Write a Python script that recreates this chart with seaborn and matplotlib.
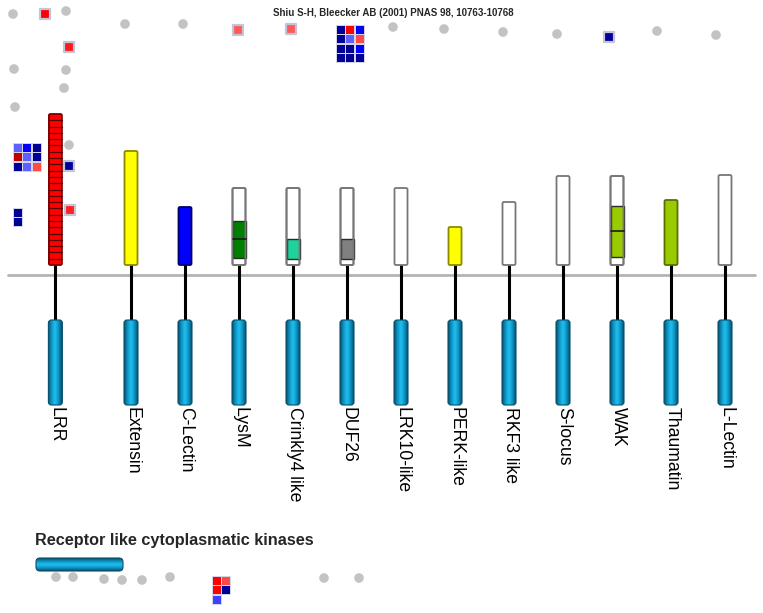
import numpy as np
import matplotlib
matplotlib.use("Agg")
import matplotlib.pyplot as plt
import seaborn as sns
from matplotlib.patches import FancyBboxPatch, Rectangle
from matplotlib.colors import LinearSegmentedColormap

sns.set_theme(style="white")
plt.rcParams['font.family'] = ['Liberation Sans', 'DejaVu Sans']

# receptor families and their extracellular domains
receptors = ["LRR", "Extensin", "C-Lectin", "LysM", "Crinkly4 like", "DUF26",
             "LRK10-like", "PERK-like", "RKF3 like", "S-locus", "WAK",
             "Thaumatin", "L-Lectin"]
ecto_len = [151, 114, 58, 77, 77, 77, 77, 38, 63, 89, 89, 65, 90]
ecto_fill = ["#ff0000", "#ffff00", "#0000ff", "white", "white", "white", "white",
             "#ffff00", "white", "white", "white", "#99cc00", "white"]
ecto_edge = ["#7a0000", "#8a8a00", "#00006a", "#777777", "#777777", "#777777",
             "#777777", "#8a8a00", "#777777", "#777777", "#777777", "#5a7000",
             "#777777"]
inner_color = [None, None, None, "#008000", "#1fd19b", "#808080", None, None,
               None, None, "#99cc00", None, None]
inner_lo = [0, 0, 0, 7, 6, 6, 0, 0, 0, 0, 8, 0, 0]
inner_hi = [0, 0, 0, 44, 26, 26, 0, 0, 0, 0, 59, 0, 0]
inner_div = [None, None, None, 26, None, None, None, None, None, None, 34, None, None]
lrr_repeats = 24

# layout
col = np.r_[-1.4, np.arange(12)]
xs = 131 + 54 * col
bar_w = 13
bar_bottom = 265
membrane_y = 275
kin_top, kin_bot = 320, 405

# scattered grey dots (other gene family markers)
dot_x = [13, 66, 125, 183, 393, 444, 503, 557, 657, 716, 14, 66, 64, 15, 69,
         56, 73, 104, 122, 142, 170, 324, 359]
dot_y = [14, 11, 24, 24, 27, 29, 32, 34, 31, 35, 69, 70, 88, 107, 145,
         577, 577, 579, 580, 580, 577, 578, 578]

# single coloured squares
sq_x = [45, 69, 238, 291, 609, 69, 70]
sq_y = [14, 47, 30, 29, 37, 166, 210]
sq_c = ["#ff0000", "#ff1a1a", "#ff5a5a", "#ff5a5a", "#000099", "#000099", "#ff2020"]

# square grids
top_grid = [["#000099", "#ff0000", "#0000ff"],
            ["#000099", "#6060ff", "#ff4a4a"],
            ["#000099", "#000099", "#0000ff"],
            ["#000099", "#000099", "#000099"]]
left_grid = [["#6060ff", "#0000ff", "#000099"],
             ["#c00000", "#6060ff", "#000099"],
             ["#000099", "#6060ff", "#ff4a4a"]]
left_stack = [["#000099"], ["#000099"]]
bottom_grid = [["#ff0000", "#ff4a4a"],
               ["#ff0000", "#000099"],
               ["#4040ff", None]]

fig = plt.figure(figsize=(7.63, 6.13), dpi=100)
ax = fig.add_axes([0, 0, 1, 1])

kin_cmap = LinearSegmentedColormap.from_list(
    "kin", ["#06506c", "#0f93c4", "#1ec2f2", "#0f93c4", "#06506c"])


def gradient_bar(x0, y0, w, h, vertical, rs):
    patch = FancyBboxPatch((x0, y0), w, h, boxstyle=f"round,pad=0,rounding_size={rs}",
                           facecolor="none", edgecolor="#06506c", lw=0.8, zorder=4)
    ax.add_patch(patch)
    g = np.linspace(0, 1, 64)
    arr = g[None, :] if vertical else g[:, None]
    im = ax.imshow(arr, cmap=kin_cmap, extent=(x0, x0 + w, y0 + h, y0),
                   aspect="auto", interpolation="bicubic", zorder=3)
    im.set_clip_path(patch)


def grid(x0, y0, cells, cs=9.5):
    for r, row in enumerate(cells):
        for c, colr in enumerate(row):
            if colr is None:
                continue
            ax.add_patch(Rectangle((x0 + c * cs, y0 + r * cs), cs, cs,
                                   facecolor="#d4d4e4", edgecolor="none", zorder=2))
            ax.add_patch(Rectangle((x0 + c * cs + 0.9, y0 + r * cs + 0.9),
                                   cs - 1.8, cs - 1.8, facecolor=colr,
                                   edgecolor="none", zorder=3))


# membrane
ax.plot([8, 755], [membrane_y, membrane_y], color="#b4b4b4", lw=2, zorder=1)

for i, name in enumerate(receptors):
    x = xs[i]
    top = bar_bottom - ecto_len[i]
    ax.plot([x, x], [bar_bottom, kin_top], color="black", lw=2.2, zorder=2)
    ax.add_patch(FancyBboxPatch((x - bar_w / 2, top), bar_w, ecto_len[i],
                                boxstyle="round,pad=0,rounding_size=1.5",
                                facecolor=ecto_fill[i], edgecolor=ecto_edge[i],
                                lw=1.3, zorder=4))
    if inner_color[i]:
        ax.add_patch(Rectangle((x - bar_w / 2, bar_bottom - inner_hi[i]), bar_w,
                               inner_hi[i] - inner_lo[i], facecolor=inner_color[i],
                               edgecolor="#2a2a2a", lw=1.0, zorder=5))
        ax.add_patch(FancyBboxPatch((x - bar_w / 2, top), bar_w, ecto_len[i],
                                    boxstyle="round,pad=0,rounding_size=1.5",
                                    facecolor="none", edgecolor=ecto_edge[i],
                                    lw=1.3, zorder=6))
    if inner_div[i] is not None:
        yd = bar_bottom - inner_div[i]
        ax.plot([x - bar_w / 2, x + bar_w / 2], [yd, yd], color="#1a1a1a", lw=1.2, zorder=6)
    if name == "LRR":
        for k in range(1, lrr_repeats):
            yk = bar_bottom - k * ecto_len[i] / lrr_repeats
            ax.plot([x - bar_w / 2, x + bar_w / 2], [yk, yk], color="#5a0000",
                    lw=0.9, zorder=5)
    gradient_bar(x - 7, kin_top, 14, kin_bot - kin_top, vertical=True, rs=3)
    ax.text(x + 1, kin_bot + 2, name, rotation=270, ha="center", va="top",
            fontsize=12.7, color="black", zorder=5)

# grey dots and single squares
sns.scatterplot(x=dot_x, y=dot_y, color="#c3c3c3", s=48, edgecolor="none",
                legend=False, ax=ax, zorder=2)
sns.scatterplot(x=sq_x, y=sq_y, hue=sq_c, palette={c: c for c in set(sq_c)},
                marker="s", s=42, edgecolor="#c4c4d8", linewidth=1.6,
                legend=False, ax=ax, zorder=3)

grid(336, 25, top_grid)
grid(13, 143, left_grid)
grid(13, 208, left_stack)
grid(212, 576, bottom_grid)

# RLCK bar
gradient_bar(36, 558, 87, 13, vertical=False, rs=4)
ax.text(35, 541, "Receptor like cytoplasmatic kinases", fontsize=11.7,
        fontweight="bold", va="center", ha="left")

ax.text(393, 13, "Shiu S-H, Bleecker AB (2001) PNAS 98, 10763-10768",
        fontsize=7, fontweight="bold", ha="center", va="center")

ax.set_xlim(0, 763)
ax.set_ylim(613, 0)
ax.axis("off")

fig.savefig("out.png", dpi=100, facecolor="white")
